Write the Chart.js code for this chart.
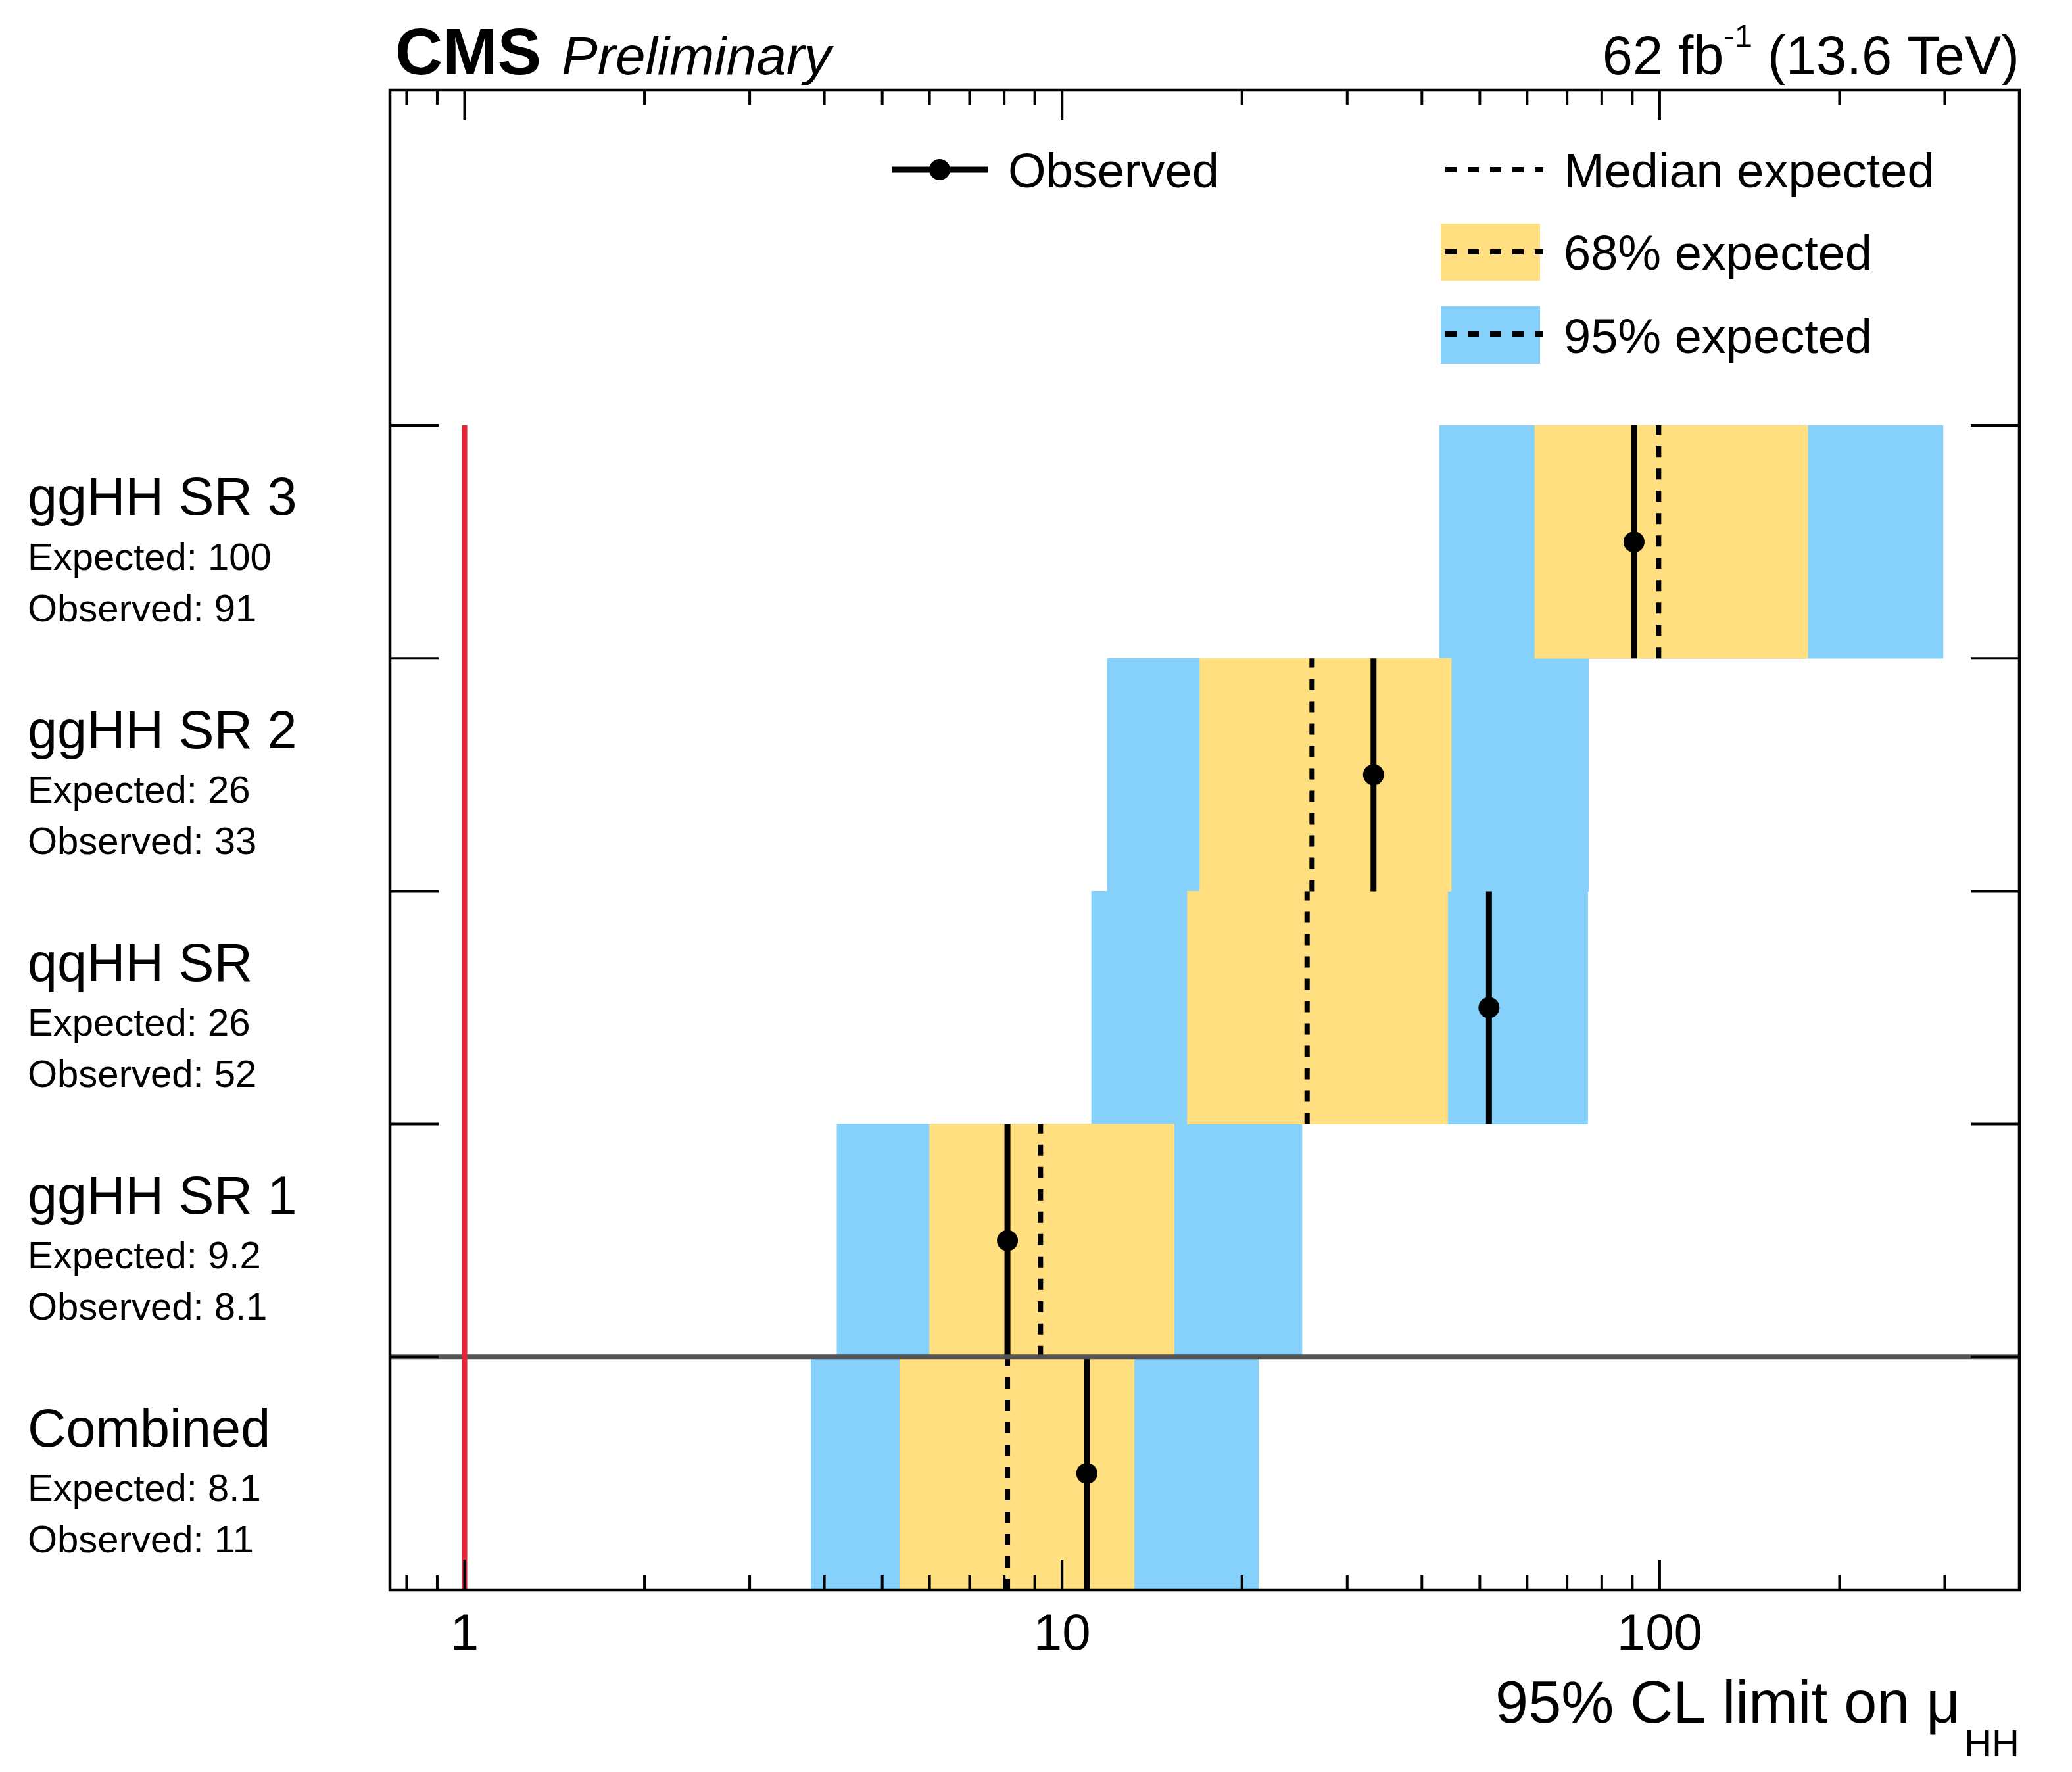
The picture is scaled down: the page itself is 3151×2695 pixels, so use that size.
<!DOCTYPE html>
<html>
<head>
<meta charset="utf-8">
<script src="https://cdn.jsdelivr.net/npm/chart.js@4/dist/chart.umd.min.js"></script>
<style>html,body{margin:0;padding:0;background:#fff;}canvas{display:block;}</style>
</head>
<body>
<canvas id="c" width="3151" height="2695"></canvas>
<script>
// ---- data (rows from bottom to top) ----
const categories    = ['Combined', 'ggHH SR 1', 'qqHH SR', 'ggHH SR 2', 'ggHH SR 3'];
const expectedLabel = ['8.1', '9.2', '26', '26', '100'];
const observedLabel = ['11', '8.1', '52', '33', '91'];
const observed = [11.0, 8.1, 51.8, 33.2, 90.6];
const expected = [8.1, 9.2, 25.7, 26.2, 99.6];
const lo68 = [5.35, 6.0, 16.2, 17.0, 61.8];
const hi68 = [13.2, 15.4, 44.2, 44.8, 177];
const lo95 = [3.8, 4.2, 11.2, 11.9, 42.8];
const hi95 = [21.3, 25.2, 75.8, 76.0, 298];
const majorTicks = [1, 10, 100];
const minorTicks = [0.8, 0.9, 2, 3, 4, 5, 6, 7, 8, 9, 20, 30, 40, 50, 60, 70, 80, 90, 200, 300];
const X_MIN = 0.75, X_MAX = 400, Y_MAX = 6.44;

const C68 = '#ffdf7f', C95 = '#85d1fb', CRED = '#e42536', CSEP = '#525252';
const FONT = '"Liberation Sans", Arial, Helvetica, sans-serif';
const DASH = [17, 17];

const rowCenter = categories.map((_, i) => i + 0.5);

const datasets = [
  { type: 'bar', label: '95% expected', data: categories.map((_, i) => ({ y: rowCenter[i], x: [lo95[i], hi95[i]] })),
    backgroundColor: C95, borderWidth: 0, grouped: false, barPercentage: 1, categoryPercentage: 1, order: 6 },
  { type: 'bar', label: '68% expected', data: categories.map((_, i) => ({ y: rowCenter[i], x: [lo68[i], hi68[i]] })),
    backgroundColor: C68, borderWidth: 0, grouped: false, barPercentage: 1, categoryPercentage: 1, order: 5 },
  ...categories.map((_, i) => ({ type: 'line', label: 'Median expected',
    data: [{ x: expected[i], y: i }, { x: expected[i], y: i + 1 }],
    borderColor: '#000', borderWidth: 8, borderDash: DASH, pointRadius: 0, fill: false, order: 3 })),
  ...categories.map((_, i) => ({ type: 'line', label: 'Observed',
    data: [{ x: observed[i], y: i }, { x: observed[i], y: i + 1 }],
    borderColor: '#000', borderWidth: 9, pointRadius: 0, fill: false, order: 2 })),
  { type: 'line', label: 'Observed points', data: categories.map((_, i) => ({ x: observed[i], y: rowCenter[i] })),
    showLine: false, pointRadius: 16, pointBackgroundColor: '#000', pointBorderWidth: 0, order: 1 }
];

function vline(ctx, x, y0, y1) { ctx.beginPath(); ctx.moveTo(x, y0); ctx.lineTo(x, y1); ctx.stroke(); }
function hline(ctx, y, x0, x1) { ctx.beginPath(); ctx.moveTo(x0, y); ctx.lineTo(x1, y); ctx.stroke(); }

const overlay = {
  id: 'overlay',
  afterDatasetsDraw(chart) {
    const { ctx, chartArea: a, scales: { x, y } } = chart;
    ctx.save();
    ctx.strokeStyle = CSEP; ctx.lineWidth = 7;
    hline(ctx, y.getPixelForValue(1), a.left, a.right);
    ctx.strokeStyle = CRED; ctx.lineWidth = 8;
    vline(ctx, x.getPixelForValue(1), y.getPixelForValue(0), y.getPixelForValue(categories.length));
    ctx.strokeStyle = '#000'; ctx.lineWidth = 4;
    minorTicks.forEach(v => {
      const px = x.getPixelForValue(v);
      vline(ctx, px, a.bottom, a.bottom - 22);
      vline(ctx, px, a.top, a.top + 22);
    });
    majorTicks.forEach(v => {
      const px = x.getPixelForValue(v);
      vline(ctx, px, a.bottom, a.bottom - 46);
      vline(ctx, px, a.top, a.top + 46);
    });
    for (let i = 1; i <= categories.length; i++) {
      const py = y.getPixelForValue(i);
      hline(ctx, py, a.left, a.left + 74);
      hline(ctx, py, a.right - 74, a.right);
    }
    ctx.lineWidth = 4.5;
    ctx.strokeRect(a.left, a.top, a.right - a.left, a.bottom - a.top);
    ctx.restore();
  },
  afterDraw(chart) {
    const { ctx, chartArea: a, scales: { x, y } } = chart;
    ctx.save();
    ctx.fillStyle = '#000';
    ctx.textBaseline = 'alphabetic';
    ctx.textAlign = 'left';

    categories.forEach((name, i) => {
      ctx.font = `81px ${FONT}`;
      ctx.fillText(name, 42, y.getPixelForValue(i + 1 - 0.385));
      ctx.font = `58px ${FONT}`;
      ctx.fillText('Expected: ' + expectedLabel[i], 42, y.getPixelForValue(i + 1 - 0.62));
      ctx.fillText('Observed: ' + observedLabel[i], 42, y.getPixelForValue(i + 1 - 0.84));
    });

    ctx.font = `bold 100px ${FONT}`;
    ctx.fillText('CMS', 601, 113);
    ctx.font = `italic 82px ${FONT}`;
    ctx.fillText('Preliminary', 854, 113);
    const big = 83, small = 49;
    ctx.font = `${big}px ${FONT}`;
    const t1 = '62 fb', t2 = ' (13.6 TeV)', ts = '-1';
    const w1 = ctx.measureText(t1).width, w2 = ctx.measureText(t2).width;
    ctx.font = `${small}px ${FONT}`;
    const ws = ctx.measureText(ts).width;
    const sx = a.right - (w1 + ws + w2);
    ctx.font = `${big}px ${FONT}`;
    ctx.fillText(t1, sx, 113);
    ctx.font = `${small}px ${FONT}`;
    ctx.fillText(ts, sx + w1, 71);
    ctx.font = `${big}px ${FONT}`;
    ctx.fillText(t2, sx + w1 + ws, 113);

    ctx.font = `58px ${FONT}`;
    const wsub = ctx.measureText('HH').width;
    ctx.textAlign = 'right';
    ctx.fillText('HH', a.right, 2671);
    ctx.font = `90px ${FONT}`;
    ctx.fillText('95% CL limit on \u03BC', a.right - wsub - 6, 2620);
    ctx.textAlign = 'left';

    ctx.strokeStyle = '#000';
    ctx.lineWidth = 9;
    hline(ctx, 258, 1356, 1502);
    ctx.beginPath(); ctx.arc(1429, 258, 16, 0, 2 * Math.PI); ctx.fill();
    ctx.fillStyle = C68; ctx.fillRect(2191, 340, 151, 87);
    ctx.fillStyle = C95; ctx.fillRect(2191, 466, 151, 87);
    ctx.lineWidth = 8;
    ctx.setLineDash(DASH);
    hline(ctx, 258, 2198, 2347);
    hline(ctx, 383, 2198, 2347);
    hline(ctx, 508, 2198, 2347);
    ctx.setLineDash([]);
    ctx.fillStyle = '#000';
    ctx.font = `74px ${FONT}`;
    ctx.fillText('Observed', 1533, 285);
    ctx.fillText('Median expected', 2378, 285);
    ctx.fillText('68% expected', 2378, 410);
    ctx.fillText('95% expected', 2378, 537);
    ctx.restore();
  }
};

new Chart(document.getElementById('c'), {
  data: { datasets },
  options: {
    responsive: false,
    devicePixelRatio: 1,
    animation: false,
    events: [],
    indexAxis: 'y',
    layout: { padding: { left: 593, right: 80, top: 137, bottom: 127 } },
    plugins: { legend: { display: false }, tooltip: { enabled: false }, title: { display: false } },
    scales: {
      x: {
        type: 'logarithmic', position: 'bottom', min: X_MIN, max: X_MAX, offset: false,
        grid: { display: false, offset: false }, border: { display: false },
        afterBuildTicks: (s) => { s.ticks = [...minorTicks, ...majorTicks].sort((a, b) => a - b).map(v => ({ value: v })); },
        afterFit: (s) => { s.height = 150; },
        ticks: {
          autoSkip: false, maxRotation: 0, minRotation: 0, padding: 15, color: '#000',
          font: { family: FONT, size: 78, lineHeight: 1.2 },
          callback: (v) => majorTicks.includes(v) ? String(v) : ''
        }
      },
      y: {
        type: 'linear', min: 0, max: Y_MAX, display: false, offset: false, grace: 0,
        grid: { offset: false },
        afterBuildTicks: (s) => { s.ticks = categories.map((_, i) => ({ value: i })).concat([{ value: categories.length }]); }
      }
    }
  },
  plugins: [overlay]
});
</script>
</body>
</html>
